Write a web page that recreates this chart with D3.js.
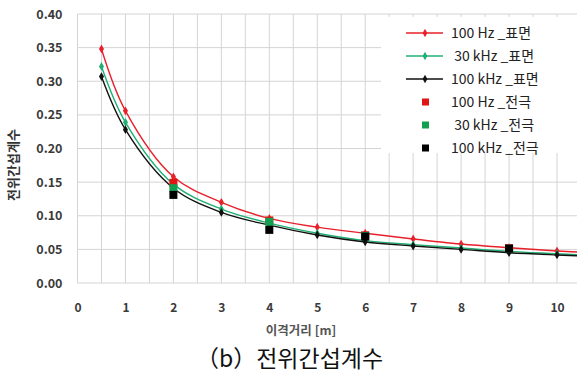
<!DOCTYPE html>
<html><head><meta charset="utf-8">
<script src="https://cdn.jsdelivr.net/npm/d3@7"></script>
<style>
html,body{margin:0;padding:0;background:#fff;}
svg{display:block;}
text{font-family:"Noto Sans CJK KR","Noto Sans",sans-serif;}
</style></head>
<body>
<svg id="c" width="577" height="376"></svg>
<script>
// ---- data ----
const xSurface = [0.5, 1, 2, 3, 4, 5, 6, 7, 8, 9, 10, 11];
const surf100Hz  = [0.348, 0.256, 0.158, 0.120, 0.096, 0.083, 0.074, 0.0655, 0.058, 0.0525, 0.0476, 0.044];
const surf30kHz  = [0.322, 0.239, 0.147, 0.110, 0.089, 0.074, 0.063, 0.057, 0.052, 0.047, 0.0435, 0.040];
const surf100kHz = [0.307, 0.228, 0.141, 0.105, 0.086, 0.0714, 0.061, 0.055, 0.050, 0.045, 0.0417, 0.039];
const xElectrode = [2, 4, 6, 9];
const elec100Hz  = [0.149, 0.093, 0.071, 0.052];
const elec30kHz  = [0.141, 0.091, 0.070, 0.051];
const elec100kHz = [0.131, 0.079, 0.069, 0.051];
const xTicks = [0,1,2,3,4,5,6,7,8,9,10];
const yTicks = [0,0.05,0.10,0.15,0.20,0.25,0.30,0.35,0.40];
const legendLabels = ["100 Hz _표면"," 30 kHz _표면","100 kHz _표면","100 Hz _전극"," 30 kHz _전극","100 kHz _전극"];
const colors = ["#e8202a","#20b074","#111111"];
const sqColors = ["#e01515","#12a050","#000000"];

const svg = d3.select("#c");
const L=77.5, R=577, T=14, B=283;
const x = d3.scaleLinear().domain([0,10.42]).range([L, L+10.42*47.95]);
const y = d3.scaleLinear().domain([0,0.40]).range([B,T]);

// grid
const grid = svg.append("g");
const xGrid = d3.range(0, 10.5, 0.5);
grid.selectAll("line.v").data(xGrid).join("line")
  .attr("x1",d=>x(d)).attr("x2",d=>x(d)).attr("y1",T).attr("y2",B)
  .attr("stroke","#d4d4d4").attr("stroke-width",1);
grid.selectAll("line.h").data(yTicks).join("line")
  .attr("x1",L).attr("x2",R).attr("y1",d=>y(d)).attr("y2",d=>y(d))
  .attr("stroke","#d4d4d4").attr("stroke-width",1);

// axes labels
const yAxis = d3.axisLeft(y).tickValues(yTicks).tickFormat(d3.format(".2f")).tickSize(0).tickPadding(15);
const ga = svg.append("g").attr("transform",`translate(${L},0)`).call(yAxis);
ga.select(".domain").remove();
ga.selectAll("text").attr("font-size",12.5).attr("font-weight","bold").attr("fill","#3a3a3a")
  .attr("font-family","'Noto Sans','DejaVu Sans',sans-serif");
const xAxis = d3.axisBottom(x).tickValues(xTicks).tickFormat(d3.format("d")).tickSize(0).tickPadding(20);
const gx = svg.append("g").attr("transform",`translate(0,${B})`).call(xAxis);
gx.select(".domain").remove();
gx.selectAll("text").attr("font-size",12).attr("font-weight","bold").attr("fill","#3a3a3a")
  .attr("font-family","'Noto Sans','DejaVu Sans',sans-serif");

svg.append("text").attr("x",301).attr("y",335).attr("text-anchor","middle")
  .attr("font-size",12.5).attr("font-weight","bold").attr("fill","#555").text("이격거리 [m]");
svg.append("text").attr("transform","translate(18,165) rotate(-90)").attr("text-anchor","middle")
  .attr("font-size",13).attr("font-weight","bold").attr("fill","#333").text("전위간섭계수");
svg.append("text").attr("x",196).attr("y",367).attr("text-anchor","start")
  .attr("font-size",23).attr("fill","#111").text("（b）전위간섭계수");

// clip
svg.append("clipPath").attr("id","clip").append("rect").attr("x",L).attr("y",0).attr("width",R-L).attr("height",B+5);
const plot = svg.append("g").attr("clip-path","url(#clip)");

const surfSeries = [surf100Hz, surf30kHz, surf100kHz];
const line = d3.line().x(d=>x(d[0])).y(d=>y(d[1])).curve(d3.curveCatmullRom.alpha(0.5));
surfSeries.forEach((s,i)=>{
  const pts = xSurface.map((xv,j)=>[xv,s[j]]);
  plot.append("path").datum(pts).attr("d",line).attr("fill","none")
    .attr("stroke",colors[i]).attr("stroke-width",1.4);
  plot.selectAll(null).data(pts).join("path")
    .attr("d",d3.symbol(d3.symbolDiamond,22))
    .attr("transform",d=>`translate(${x(d[0])},${y(d[1])})`)
    .attr("fill",colors[i]);
});
const elecSeries = [elec100Hz, elec30kHz, elec100kHz];
const sq = 8;
elecSeries.forEach((s,i)=>{
  plot.selectAll(null).data(xElectrode.map((xv,j)=>[xv,s[j]])).join("rect")
    .attr("x",d=>x(d[0])-sq/2).attr("y",d=>y(d[1])-sq/2).attr("width",sq).attr("height",sq)
    .attr("fill",sqColors[i]);
});

// legend
const lg = svg.append("g");
lg.append("rect").attr("x",381).attr("y",17).attr("width",196).attr("height",136).attr("fill","#fff");
legendLabels.forEach((lab,i)=>{
  const cy = 33 + i*23;
  const g = lg.append("g");
  if(i<3){
    g.append("line").attr("x1",406).attr("x2",443).attr("y1",cy).attr("y2",cy)
      .attr("stroke",colors[i]).attr("stroke-width",1.3);
    g.append("path").attr("d",d3.symbol(d3.symbolDiamond,20)).attr("transform",`translate(425,${cy})`).attr("fill",colors[i]);
  } else {
    g.append("rect").attr("x",422).attr("y",cy-3.5).attr("width",7).attr("height",7).attr("fill",sqColors[i-3]);
  }
  g.append("text").attr("x",451).attr("y",cy+5).attr("font-size",14).attr("fill","#222")
    .style("white-space","pre").text(lab);
});
</script>
</body></html>
